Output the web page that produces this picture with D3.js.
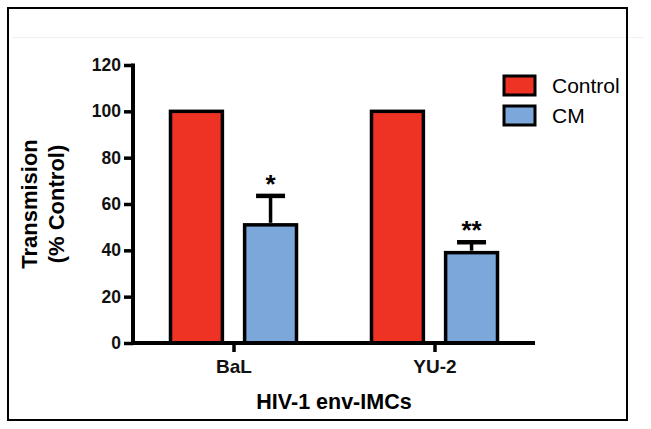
<!DOCTYPE html>
<html>
<head>
<meta charset="utf-8">
<script src="https://cdn.jsdelivr.net/npm/d3@7"></script>
<style>
  body { margin: 0; background: #fff; }
  svg { display: block; font-family: Arial, "Liberation Sans", sans-serif; }
</style>
</head>
<body>
<div id="plot"></div>
<script>
var groups = ["BaL", "YU-2"];
var series = ["Control", "CM"];
var controlValues = [100, 100];
var cmValues = [51, 39];
var cmErrors = [12.5, 4.5];
var stars = ["*", "**"];
var yTicks = [0, 20, 40, 60, 80, 100, 120];
var colors = { Control: "#ee3224", CM: "#7ba7da" };

var chart = d3.select("#plot").append("svg")
	.attr("width", 651)
	.attr("height", 429);

// outer frame + faint line near the top
chart.append("line")
	.attr("x1", 12).attr("x2", 644)
	.attr("y1", 37.5).attr("y2", 37.5)
	.style("stroke", "#f0f0f0");
chart.append("rect")
	.attr("x", 8).attr("y", 8)
	.attr("width", 619).attr("height", 412)
	.style("fill", "none")
	.style("stroke", "#000")
	.style("stroke-width", 2);

var y = d3.scaleLinear().domain([0, 120]).range([343, 65]);
var x0 = d3.scalePoint().domain(groups).range([133, 535]).padding(0.5);
var x1 = d3.scaleBand().domain(series).range([-63, 63]).paddingInner(0.3);

var rows = groups.map(function(g, i){
	return { group: g, Control: controlValues[i], CM: cmValues[i], err: cmErrors[i], star: stars[i] };
});

// bars
var g = chart.selectAll("g.grp").data(rows).enter().append("g")
	.attr("class", "grp")
	.attr("transform", function(d){ return "translate(" + x0(d.group) + ",0)"; });

g.selectAll("rect").data(function(d){
		return series.map(function(s){ return { key: s, value: d[s] }; });
	}).enter().append("rect")
	.attr("x", function(d){ return x1(d.key); })
	.attr("y", function(d){ return y(d.value); })
	.attr("width", x1.bandwidth())
	.attr("height", function(d){ return y(0) - y(d.value); })
	.style("fill", function(d){ return colors[d.key]; })
	.style("stroke", "#000")
	.style("stroke-width", 3.5);

// error bars (up only) on CM
var cx = x1("CM") + x1.bandwidth() / 2;
g.append("line")
	.attr("x1", cx).attr("x2", cx)
	.attr("y1", function(d){ return y(d.CM) - 2; })
	.attr("y2", function(d){ return y(d.CM + d.err); })
	.style("stroke", "#000").style("stroke-width", 3.5);
g.append("line")
	.attr("x1", cx - 14.5).attr("x2", cx + 14.5)
	.attr("y1", function(d){ return y(d.CM + d.err); })
	.attr("y2", function(d){ return y(d.CM + d.err); })
	.style("stroke", "#000").style("stroke-width", 4.5);
g.append("text")
	.attr("x", cx)
	.attr("y", function(d){ return y(d.CM + d.err) - 3; })
	.attr("text-anchor", "middle")
	.style("font-size", "26px")
	.style("font-weight", "bold")
	.text(function(d){ return d.star; });

// axes
var yAxis = chart.append("g")
	.attr("transform", "translate(133,0)")
	.call(d3.axisLeft(y).tickValues(yTicks).tickSize(9).tickSizeOuter(0).tickPadding(3));
yAxis.select(".domain").style("stroke-width", 4).attr("d", "M0," + (y(0) + 2) + "V" + (y(120) - 1.5));
yAxis.selectAll(".tick line").style("stroke-width", 3.5);
yAxis.selectAll(".tick text").style("font-size", "17.5px").style("font-weight", "bold").attr("fill", "#111");

var xAxis = chart.append("g")
	.attr("transform", "translate(0,343)")
	.call(d3.axisBottom(x0).tickSize(9).tickSizeOuter(0).tickPadding(8));
xAxis.select(".domain").style("stroke-width", 4).attr("d", "M131,0H535");
xAxis.selectAll(".tick line").style("stroke-width", 3.5);
xAxis.selectAll(".tick text").style("font-size", "19px").style("font-weight", "bold").attr("fill", "#111");

// axis titles
chart.append("text")
	.attr("x", 334).attr("y", 409)
	.attr("text-anchor", "middle")
	.style("font-size", "21.5px").style("font-weight", "bold")
	.text("HIV-1 env-IMCs");
chart.append("text")
	.attr("transform", "translate(37,204) rotate(-90)")
	.attr("text-anchor", "middle")
	.style("font-size", "22px").style("font-weight", "bold")
	.text("Transmision");
chart.append("text")
	.attr("transform", "translate(64,204) rotate(-90)")
	.attr("text-anchor", "middle")
	.style("font-size", "22px").style("font-weight", "bold")
	.text("(% Control)");

// legend
var leg = chart.selectAll("g.leg").data(series).enter().append("g")
	.attr("class", "leg")
	.attr("transform", function(d, i){ return "translate(504," + (76 + i * 30) + ")"; });
leg.append("rect")
	.attr("width", 31).attr("height", 19)
	.style("fill", function(d){ return colors[d]; })
	.style("stroke", "#000").style("stroke-width", 3);
leg.append("text")
	.attr("x", 48).attr("y", 10)
	.attr("dy", "0.35em")
	.style("font-size", "21px")
	.text(function(d){ return d; });
</script>
</body>
</html>
